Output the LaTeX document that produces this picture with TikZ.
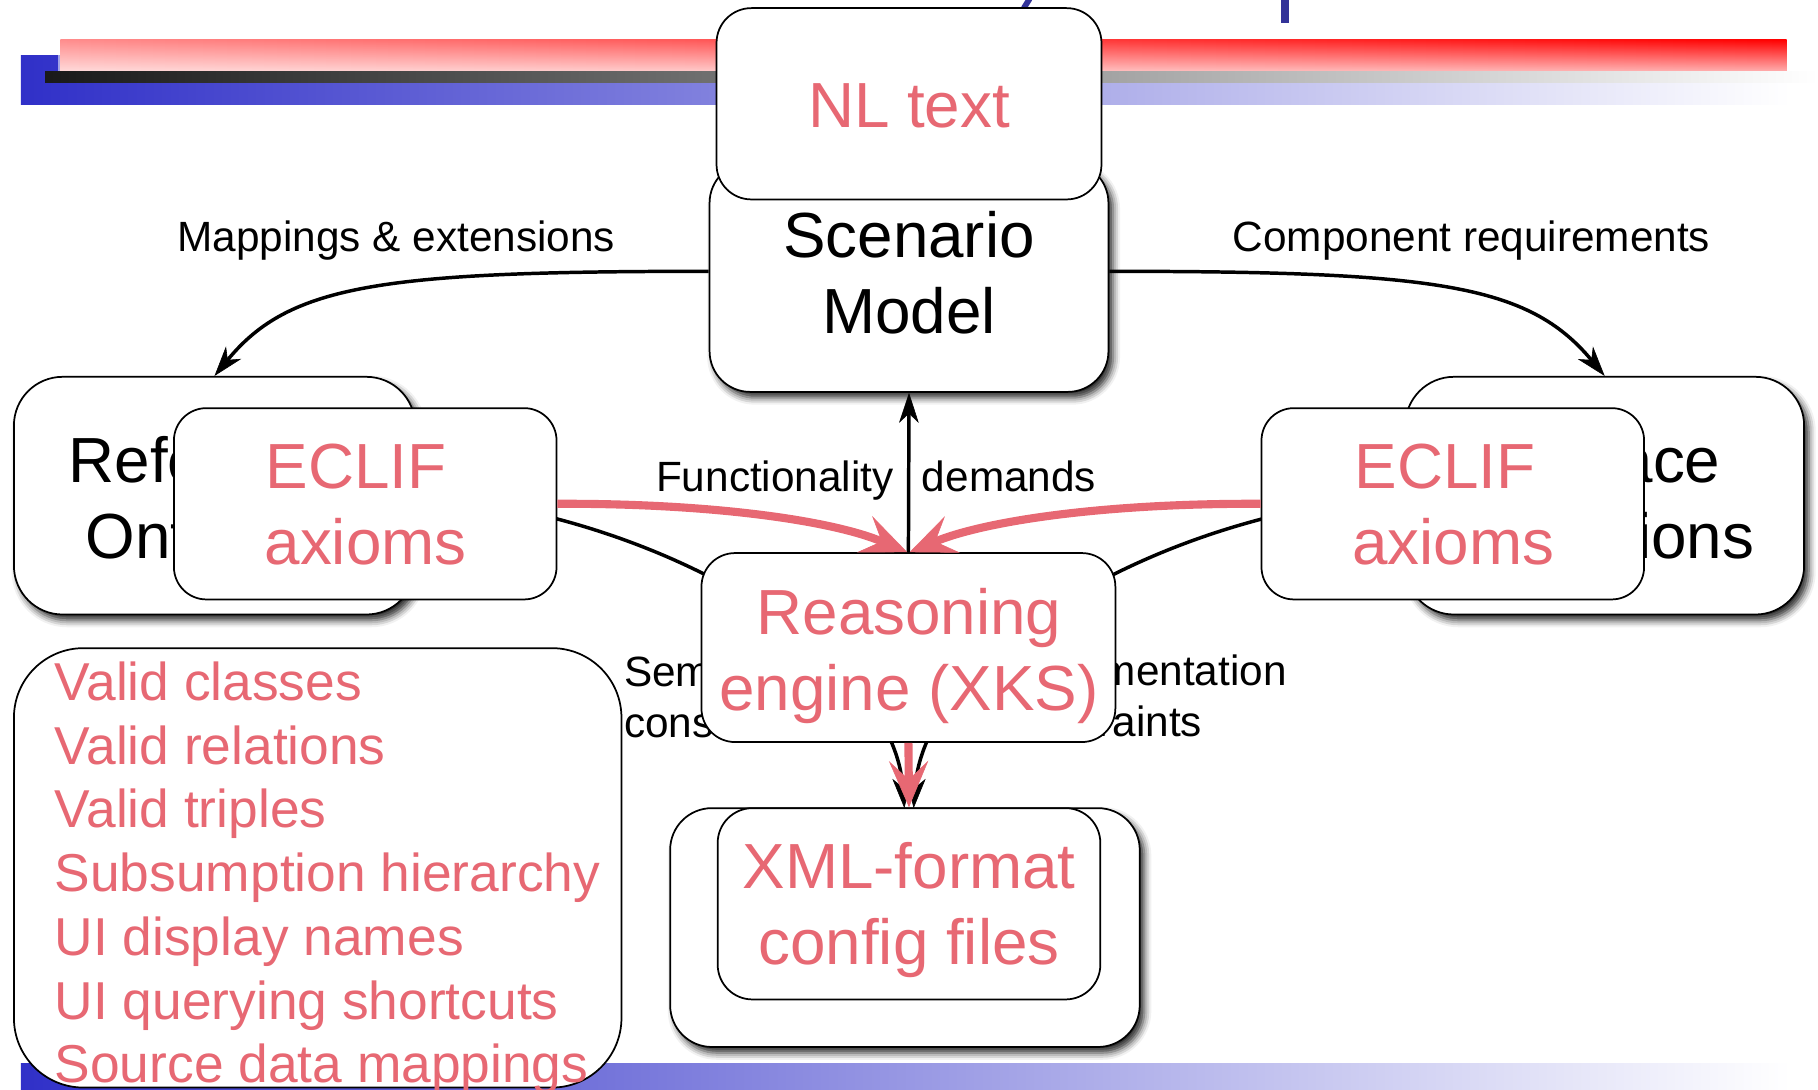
\documentclass[tikz,border=0pt]{standalone}
\usepackage{fontspec}
\setmainfont{Liberation Sans}
\usetikzlibrary{arrows.meta,shadows.blur,fadings}
\definecolor{salmon}{RGB}{231,104,115}
\definecolor{bannerblue}{RGB}{48,48,200}
\definecolor{titleblue}{RGB}{51,51,153}
\tikzfading[name=paleleft, left color=transparent!45, right color=transparent!100]
\begin{document}
\begin{tikzpicture}[x=1pt,y=-1pt,
  box/.style={draw=black, line width=1.5pt, fill=white, rounded corners=#1, inner sep=0pt},
  shadowed/.style={blur shadow={shadow xshift=4pt, shadow yshift=-5pt, shadow blur radius=6pt, shadow opacity=85}},
  big/.style={font=\fontsize{55}{66}\selectfont, inner sep=0pt},
  lbl/.style={font=\fontsize{36.5}{44}\selectfont, inner sep=0pt},
  item/.style={font=\fontsize{46}{55}\selectfont, inner sep=0pt, text=salmon, anchor=base west},
  blk/.style={line width=3pt, -{Stealth[length=26pt, width=17pt, inset=8pt, line width=0.5pt]}},
  redarr/.style={draw=salmon, line width=7pt, -{Stealth[length=40pt, width=34pt, inset=16pt, line width=0.5pt]}},
]
\useasboundingbox (0,0) rectangle (1568,940);

% slide banner bars
\shade[left color=bannerblue, right color=white] (18,48) rectangle (1544,90);
\shade[top color=red, bottom color=red!30!white] (52,34) rectangle (1541,62);
\fill[white, path fading=paleleft] (52,34) rectangle (1541,62);
\shade[left color=black!90, right color=white] (39,62) rectangle (1568,71);
\shade[left color=bannerblue, right color=white] (18,917) rectangle (1544,940);

% descenders of the slide heading reaching into the frame
\draw[titleblue, line width=5pt] (888,-1) -- (883,7);
\draw[titleblue, line width=7pt] (1108,-1) -- (1108,20);

% constraint links, running behind the boxes
\coordinate (refE) at (358,427.5);
\coordinate (ifaceW) at (1212,427.5);
\coordinate (xmlL) at (780,697);
\coordinate (xmlR) at (788,697);
\draw[blk] (refE) .. controls (560,440) and (770,560) .. (xmlL);
\draw[blk] (ifaceW) .. controls (1008,440) and (798,560) .. (xmlR);

% side sources
\node[box=42pt, shadowed, minimum width=346pt, minimum height=205pt] (ref) at (185,427.5) {};
\node[big, anchor=base] (reft1) at (186,416) {Reference};
\node[big, anchor=base] (reft2) at (184,482) {Ontology};

\node[box=42pt, shadowed, minimum width=344pt, minimum height=205pt] (iface) at (1384,427.5) {};
\node[big, anchor=base east] (ift1) at (1484,416) {Interface};
\node[big, anchor=base east] (ift2) at (1513,482) {Definitions};

\node[box=28pt, minimum width=330pt, minimum height=165pt] (eclifl) at (315,434.5) {};
\node[big, text=salmon, anchor=base west] (el1) at (229,421) {ECLIF};
\node[big, text=salmon, anchor=base west] (el2) at (228,487) {axioms};

\node[box=28pt, minimum width=330pt, minimum height=165pt] (eclifr) at (1253,434.5) {};
\node[big, text=salmon, anchor=base west] (er1) at (1168,421) {ECLIF};
\node[big, text=salmon, anchor=base west] (er2) at (1166,487) {axioms};

% connector labels
\node[lbl, anchor=base west] (lmap) at (153,217) {Mappings \& extensions};
\node[lbl, anchor=base west] (lcomp) at (1063,217) {Component requirements};
\node[lbl, anchor=base east] (lfun) at (771,424) {Functionality};
\node[lbl, anchor=base west] (ldem) at (795,424) {demands};
\node[lbl, anchor=base west] (lsem1) at (538,592) {Semantic};
\node[lbl, anchor=base west] (lsem2) at (538,636) {constraints};
\node[lbl, anchor=base west] (limp1) at (860,591) {Implementation};
\node[lbl, anchor=base west] (limp2) at (860,635) {constraints};

% scenario model with its text source
\node[box=35pt, shadowed, minimum width=344pt, minimum height=198pt] (scen) at (784,239) {};
\node[big, anchor=base] (sc1) at (784,222) {Scenario};
\node[big, anchor=base] (sc2) at (784,288) {Model};
\node[box=30pt, minimum width=332pt, minimum height=165pt] (nl) at (784,89.5) {};
\node[big, text=salmon, anchor=base] (nlt) at (784,110) {NL text};

% reasoning engine
\node[box=29pt, minimum width=357pt, minimum height=163pt] (reas) at (783.5,558.5) {};
\node[big, text=salmon, anchor=base] (re1) at (784,547) {Reasoning};
\node[big, text=salmon, anchor=base] (re2) at (784,613) {engine (XKS)};

% generated output
\node[box=36pt, shadowed, minimum width=405pt, minimum height=206pt] (xmlout) at (780.5,800) {};
\node[box=30pt, minimum width=330pt, minimum height=165pt] (xmlin) at (784,779.5) {};
\node[big, text=salmon, anchor=base] (x1) at (784,766) {XML-format};
\node[big, text=salmon, anchor=base] (x2) at (784,832) {config files};

% contents of the ontology
\node[box=60pt, minimum width=524pt, minimum height=379pt] (list) at (274,748.5) {};
\foreach \t [count=\i] in {Valid classes, Valid relations, Valid triples, Subsumption hierarchy, UI display names, UI querying shortcuts, Source data mappings}
  \node[item] (item\i) at (47,549+55*\i) {\t};

% black connectors
\draw[blk] (scen.west |- 0,234) .. controls (330,234) and (250,245) .. (ref.north);
\draw[blk] (scen.east |- 0,234) .. controls (1238,234) and (1318,245) .. (iface.north);
\draw[blk] (reas.north) -- (scen.south);

% red connectors
\draw[redarr] (eclifl.east) .. controls (620,434) and (720,450) .. ([xshift=-1pt]reas.north);
\draw[redarr] (eclifr.west) .. controls (948,434) and (848,450) .. ([xshift=1pt]reas.north);
\draw[redarr] (reas.south) -- (xmlin.north);
\end{tikzpicture}
\end{document}
